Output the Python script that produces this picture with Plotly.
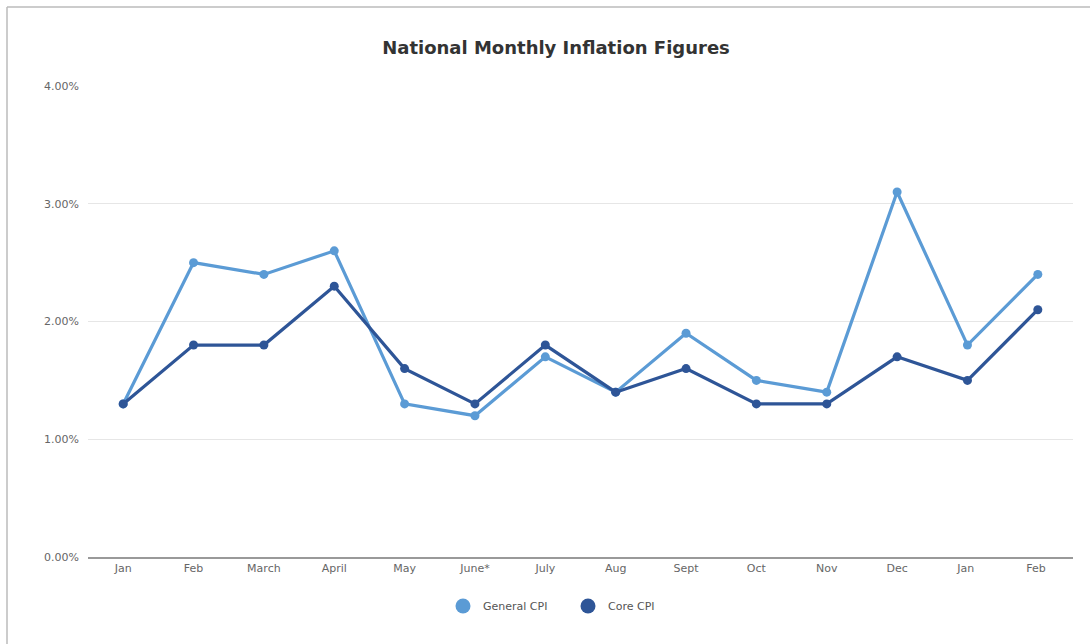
import plotly.graph_objects as go

months = ["Jan", "Feb", "March", "April", "May", "June*", "July", "Aug", "Sept", "Oct", "Nov", "Dec", "Jan ", "Feb "]
general_cpi = [1.3, 2.5, 2.4, 2.6, 1.3, 1.2, 1.7, 1.4, 1.9, 1.5, 1.4, 3.1, 1.8, 2.4]
core_cpi = [1.3, 1.8, 1.8, 2.3, 1.6, 1.3, 1.8, 1.4, 1.6, 1.3, 1.3, 1.7, 1.5, 2.1]
series_names = ["General CPI", "Core CPI"]
series_colors = ["#5B9BD5", "#2E5597"]
y_ticks = [0, 1, 2, 3, 4]
y_tick_labels = ["0.00%", "1.00%", "2.00%", "3.00%", "4.00%"]

W, H = 1090, 644
L, R, T, B = 88, 17, 86, 87
pw, ph = W - L - R, H - T - B

fig = go.Figure()
for name, vals, col in zip(series_names, [general_cpi, core_cpi], series_colors):
    fig.add_trace(go.Scatter(x=months, y=vals, name=name, mode="lines+markers", showlegend=False,
                             line=dict(color=col, width=3.2), marker=dict(size=9, color=col)))
# legend-only entries (circle symbol, no line)
for name, col in zip(series_names, series_colors):
    fig.add_trace(go.Scatter(x=[None], y=[None], name=name, mode="markers",
                             marker=dict(size=15, color=col, symbol="circle")))

fx = lambda px: (px - L) / pw
fy = lambda py: (H - B - py) / ph
fig.add_shape(type="line", xref="paper", yref="paper", x0=fx(7), x1=fx(7), y0=fy(7), y1=fy(H),
              line=dict(color="#bbbbbb", width=1.5))
fig.add_shape(type="line", xref="paper", yref="paper", x0=fx(7), x1=fx(W), y0=fy(7), y1=fy(7),
              line=dict(color="#bbbbbb", width=1.5))

fig.update_layout(
    width=W, height=H,
    margin=dict(l=L, r=R, t=T, b=B),
    paper_bgcolor="white", plot_bgcolor="white",
    font=dict(family="DejaVu Sans", color="#666666", size=11),
    title=dict(text="<b>National Monthly Inflation Figures</b>", x=556 / W, xanchor="center",
               y=1 - 48 / H, yanchor="middle", font=dict(size=18, color="#333333")),
    xaxis=dict(type="category", range=[-0.5, len(months) - 0.5], showgrid=False,
               showline=True, linecolor="#999999", linewidth=2, ticks="",
               tickfont=dict(size=11, color="#666666")),
    yaxis=dict(range=[0, 4], tickvals=y_ticks, ticktext=y_tick_labels, showgrid=True,
               gridcolor="#e6e6e6", gridwidth=1, zeroline=False, showline=False,
               ticks="", ticklabelstandoff=8, tickfont=dict(size=11, color="#666666")),
    legend=dict(orientation="h", x=568 / W, xanchor="center", xref="container",
                y=1 - 606 / H, yanchor="middle", yref="container", entrywidth=80,
                font=dict(size=11, color="#555555")),
    showlegend=True,
)
fig.write_html("out.html")
